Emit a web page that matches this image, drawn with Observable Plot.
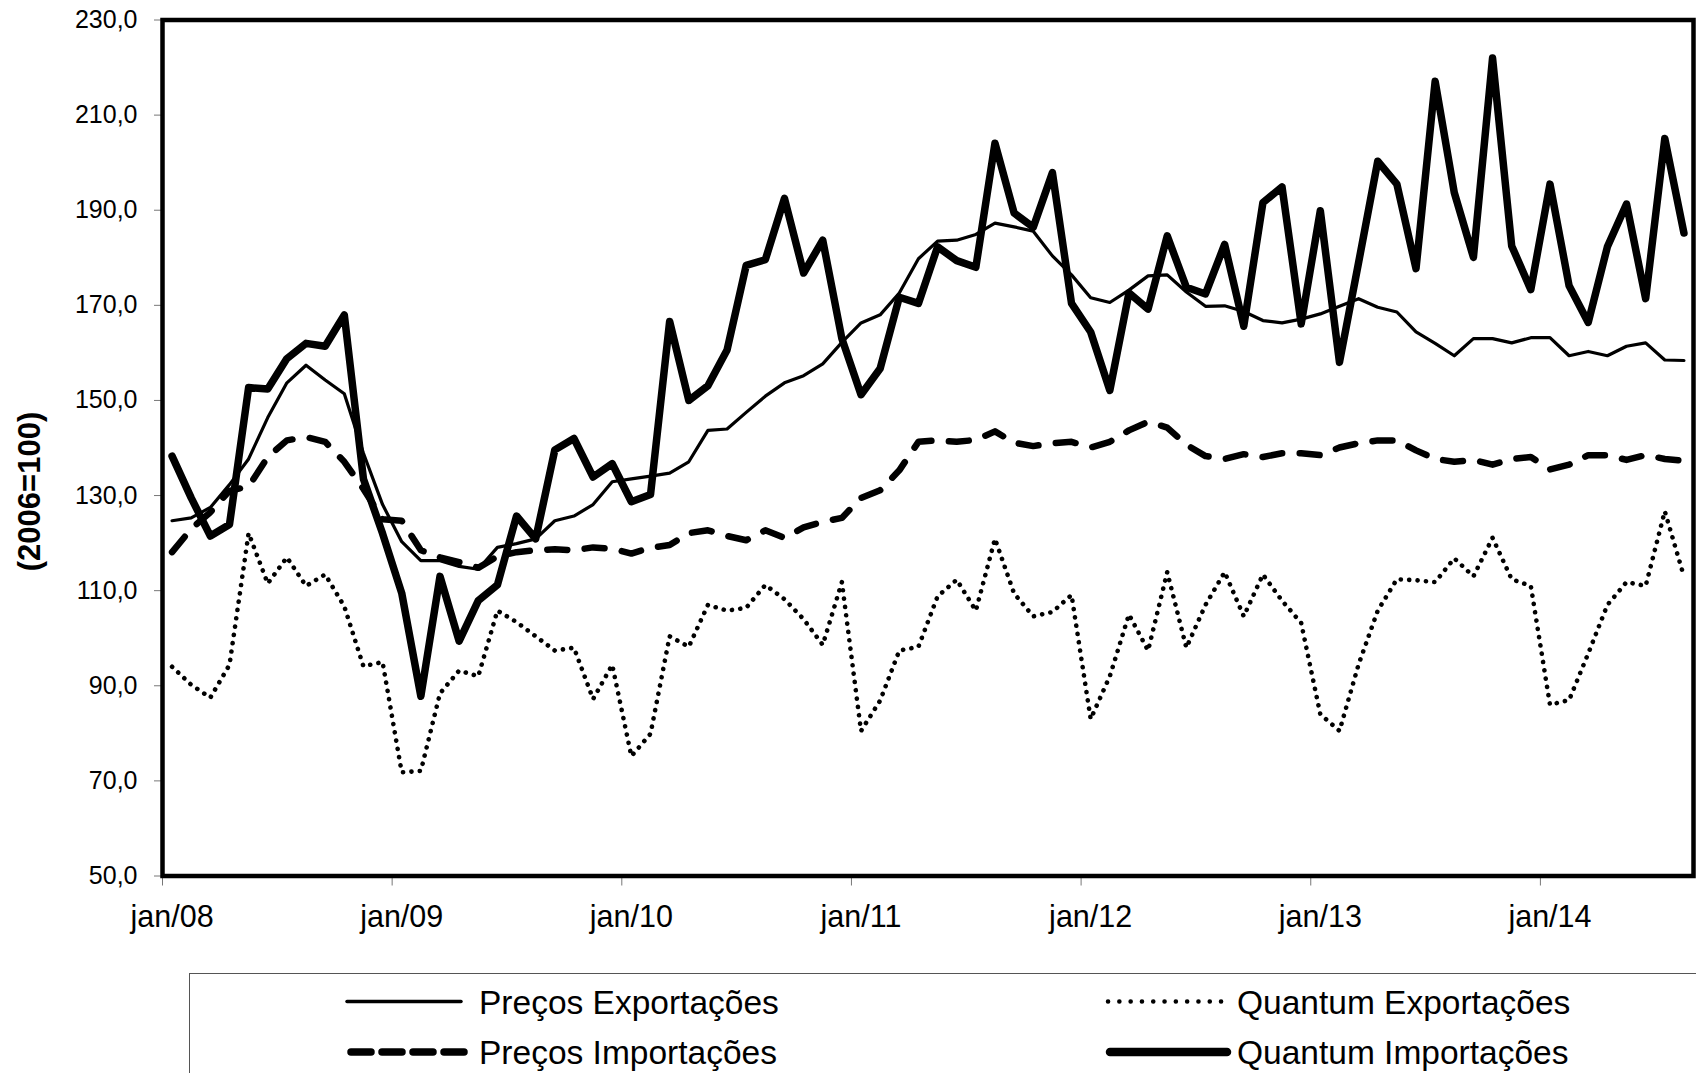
<!DOCTYPE html>
<html>
<head>
<meta charset="utf-8">
<script src="https://cdn.jsdelivr.net/npm/d3@7"></script>
<script src="https://cdn.jsdelivr.net/npm/@observablehq/plot@0.6"></script>
<style>
  html, body { margin: 0; padding: 0; background: #fff; overflow: hidden; }
  #wrap { position: relative; width: 1696px; height: 1073px; font-family: "Liberation Sans", Arial, sans-serif; }
  #legend { position: absolute; left: 189px; top: 973px; width: 1600px; height: 200px;
            border: 1.5px solid #555; box-sizing: border-box; background: #fff; }
  #legend svg { position: absolute; left: 0; top: 0; }
</style>
</head>
<body>
<div id="wrap"><div id="chart"></div><div id="legend"></div></div>
<script>
// ---- data (monthly, jan/08 .. ago/14) ----
const monthAbbr = ["jan","fev","mar","abr","mai","jun","jul","ago","set","out","nov","dez"];
const startYear = 2008;
const nMonths = 80;
const months = d3.range(nMonths).map(i => monthAbbr[i % 12] + "/" + String((startYear + Math.floor(i / 12)) % 100).padStart(2, "0"));
const xTickLabels = ["jan/08","jan/09","jan/10","jan/11","jan/12","jan/13","jan/14"];
const yTicks = [50,70,90,110,130,150,170,190,210,230];

const precosExportacoes = [
  124.7,125.3,127.5,132.3,137.7,146.4,153.7,157.4,154.3,151.4,138.9,128.1,
  120.3,116.3,116.3,115.1,114.5,119.1,119.9,120.9,124.7,125.7,128.1,132.9,
  133.5,134.1,134.7,137.1,143.7,144.0,147.5,150.9,153.7,155.2,157.7,162.2,
  166.3,168.0,172.6,179.8,183.5,183.7,184.9,187.3,186.5,185.6,180.4,176.4,
  171.6,170.6,173.2,176.2,176.4,172.8,169.8,169.9,168.7,166.8,166.3,167.1,
  168.2,169.8,171.4,169.6,168.6,164.4,162.0,159.4,163.0,163.0,162.1,163.2,
  163.2,159.4,160.3,159.4,161.4,162.1,158.5,158.4
];
const precosImportacoes = [
  118.1,123.0,126.5,131.0,131.9,138.1,141.6,142.3,141.3,137.1,131.4,125.0,
  124.7,118.5,117.0,116.0,114.8,117.2,118.1,118.5,118.7,118.5,119.1,118.8,
  117.8,119.0,119.6,122.1,122.7,121.5,120.6,122.7,121.1,123.3,124.5,125.3,
  129.5,131.1,135.3,141.3,141.6,141.3,141.7,143.5,141.1,140.4,141.0,141.3,
  140.1,141.3,143.7,145.5,144.3,140.7,138.3,137.7,138.7,138.1,138.9,138.9,
  138.5,140.1,141.0,141.6,141.6,139.5,137.7,137.1,137.5,136.5,137.7,138.1,
  135.5,136.5,138.5,138.5,137.5,138.5,137.7,137.3
];
const quantumExportacoes = [
  94.0,90.2,87.5,94.4,122.1,111.5,117.0,111.0,113.4,106.7,94.1,95.0,
  71.8,72.1,88.4,93.2,92.0,105.8,103.4,100.4,97.4,98.0,87.2,94.4,
  75.2,79.9,100.4,98.2,107.0,105.8,106.4,111.2,108.2,104.0,98.6,111.8,
  80.5,86.9,97.4,98.2,108.8,112.3,105.8,120.9,109.4,104.6,105.5,109.1,
  83.0,92.0,105.0,97.4,113.9,98.0,107.0,113.9,104.6,113.4,107.9,103.2,
  84.0,80.5,94.5,105.8,112.4,112.2,111.8,116.8,113.0,121.1,112.4,111.0,
  86.0,87.0,96.8,107.0,111.8,111.0,126.7,113.0
];
const quantumImportacoes = [
  138.3,129.5,121.5,123.9,152.7,152.4,158.8,162.0,161.4,168.0,133.5,122.0,
  109.5,87.8,113.0,99.4,107.9,111.2,125.7,120.9,139.6,142.0,133.9,136.7,
  128.7,130.2,166.6,150.0,153.1,160.6,178.4,179.6,192.5,176.8,183.7,163.0,
  151.2,156.7,171.7,170.4,182.3,179.4,178.0,204.1,189.4,186.4,197.9,170.4,
  164.4,152.1,172.6,169.2,184.6,173.8,172.4,182.8,165.6,191.6,194.9,166.1,
  189.9,158.0,179.0,200.3,195.5,177.7,217.1,193.7,180.1,222.0,182.5,173.3,
  195.5,174.1,166.4,182.3,191.3,171.4,205.1,185.2
];

const seriesNames = ["Preços Exportações","Preços Importações","Quantum Exportações","Quantum Importações"];
const seriesValues = [precosExportacoes, precosImportacoes, quantumExportacoes, quantumImportacoes];
const styles = {
  "Preços Exportações": {strokeWidth: 3.2, strokeDasharray: null, strokeLinecap: "round"},
  "Preços Importações": {strokeWidth: 6.5, strokeDasharray: "20 17.5", strokeLinecap: "round"},
  "Quantum Exportações": {strokeWidth: 4.6, strokeDasharray: "0.1 8.3", strokeLinecap: "round"},
  "Quantum Importações": {strokeWidth: 7.5, strokeDasharray: null, strokeLinecap: "round"}
};

const rows = seriesNames.map((name, s) => seriesValues[s].map((v, i) => ({series: name, i, month: months[i], value: v})));

const tickIdx = xTickLabels.map(l => months.indexOf(l));
const boundaryIdx = tickIdx.map(i => i - 0.5);
const fmt = d => d.toFixed(1).replace(".", ",");

const lineMarks = seriesNames.map((name, s) => Plot.line(rows[s], {
  x: "i", y: "value", stroke: "black", strokeLinejoin: "round", ...Object.fromEntries(Object.entries(styles[name]).filter(([k, v]) => v != null))
}));

const chart = Plot.plot({
  width: 1696,
  height: 965,
  marginLeft: 162,
  marginRight: 3,
  marginTop: 19.5,
  marginBottom: 89.5,
  x: {domain: [-0.5, nMonths - 0.5]},
  y: {domain: [50, 230]},
  style: {fontFamily: "'Liberation Sans', Arial, sans-serif", background: "white", color: "black", overflow: "visible"},
  marks: [
    Plot.axisY({ticks: yTicks, tickSize: 8, tickPadding: 17, tickFormat: fmt, fontSize: 25, stroke: "#777", fill: "black", label: null}),
    Plot.axisX({ticks: boundaryIdx, tickSize: 10, tickFormat: () => "", stroke: "#777", label: null}),
    Plot.axisX({ticks: tickIdx, tickSize: 0, tickPadding: 29, tickFormat: i => months[i], fontSize: 30.5, fill: "black", label: null}),
    ...lineMarks,
    Plot.frame({stroke: "black", strokeWidth: 4.5}),
    Plot.text(["(2006=100)"], {frameAnchor: "left", dx: -132, dy: 43.5, rotate: -90, textAnchor: "middle", fontSize: 31, fontWeight: "bold", fill: "black"})
  ]
});
document.getElementById("chart").appendChild(chart);

// ---- legend (below the SVG) ----
const legendItems = [
  {name: seriesNames[0], x1: 157, x2: 271, tx: 289, cy: 27.5, w: 3.5, dash: null},
  {name: seriesNames[1], x1: 161, x2: 275, tx: 289, cy: 78, w: 7.5, dash: "20 11"},
  {name: seriesNames[2], x1: 918, x2: 1032, tx: 1047, cy: 27.5, w: 4.5, dash: "0.1 11.2"},
  {name: seriesNames[3], x1: 920, x2: 1037, tx: 1047, cy: 78, w: 8.5, dash: null}
];
const lsvg = d3.select("#legend").append("svg").attr("width", 1600).attr("height", 200)
  .style("font-family", "'Liberation Sans', Arial, sans-serif");
legendItems.forEach(d => {
  lsvg.append("line").attr("x1", d.x1).attr("x2", d.x2).attr("y1", d.cy).attr("y2", d.cy)
    .attr("stroke", "black").attr("stroke-width", d.w).attr("stroke-linecap", "round")
    .attr("stroke-dasharray", d.dash);
  lsvg.append("text").attr("x", d.tx).attr("y", d.cy + 12).attr("font-size", 33.5).attr("fill", "black").text(d.name);
});
</script>
</body>
</html>
